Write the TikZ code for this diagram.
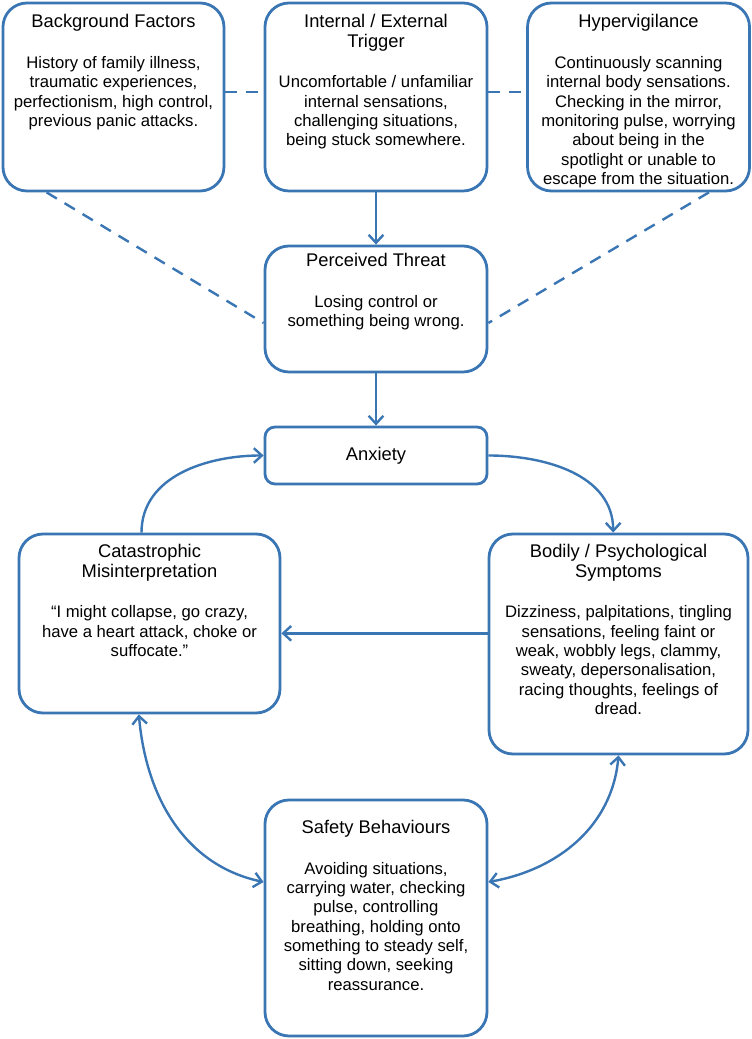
\documentclass[tikz,border=0pt]{standalone}
\usepackage{fontspec}
\setmainfont{Liberation Sans}
\usepackage{xcolor}
\usetikzlibrary{positioning, arrows.meta}

\definecolor{boxblue}{RGB}{58,117,180}
\newcommand{\ttl}[1]{{\fontsize{13.75}{15.5}\selectfont #1}}

\begin{document}
\begin{tikzpicture}[x=0.75pt,y=0.75pt,node distance=196.9pt,
                    box/.style={draw=boxblue,line width=2.1pt,rounded corners=18pt,minimum width=166.5pt,minimum height=141pt},
                    txt/.style={inner sep=0pt,align=center,font=\fontsize{12.5}{14.5}\selectfont},
                    arr/.style={draw=boxblue,line width=1.8pt,-{Straight Barb[length=6pt,width=11pt]}},
                    dbl/.style={arr,{Straight Barb[length=6pt,width=11pt]}-{Straight Barb[length=6pt,width=11pt]}},
                    dash line/.style={draw=boxblue,line width=1.8pt,dash pattern=on 9pt off 6.75pt}]

  \useasboundingbox (0,0) rectangle (751,1039);

  % top row
  \node[box] (trig) at (376,942) {};
  \node[box,minimum width=165.75pt] (bg) [left of=trig] {};
  \node[box] (hyp) [right of=trig] {};

  \node[box,minimum height=94.5pt] (pt) at (376,730) {};
  \node[box,txt,rounded corners=7.5pt,minimum height=42.75pt] (anx) at (376,583.5) {\ttl{Anxiety}};

  % cycle
  \node[box,minimum width=195.75pt,minimum height=134.25pt] (cat) at (149.5,415.5) {};
  \node[box,minimum width=194.25pt,minimum height=165pt] (bod) at (618.5,395) {};
  \node[box,minimum height=177pt] (saf) at (376,121) {};

  % texts
  \node[txt,below=9.5pt of bg.north] (bgtext) {\ttl{Background Factors}\\[16pt]
    History of family illness,\\ traumatic experiences,\\ perfectionism, high control,\\ previous panic attacks.};
  \node[txt,below=9.5pt of trig.north] (trigtext) {\ttl{Internal / External}\\ \ttl{Trigger}\\[16pt]
    Uncomfortable / unfamiliar\\ internal sensations,\\ challenging situations,\\ being stuck somewhere.};
  \node[txt,below=9.5pt of hyp.north] (hyptext) {\ttl{Hypervigilance}\\[16pt]
    Continuously scanning\\ internal body sensations.\\ Checking in the mirror,\\ monitoring pulse, worrying\\ about being in the\\ spotlight or unable to\\ escape from the situation.};
  \node[txt,below=6.5pt of pt.north] (pttext) {\ttl{Perceived Threat}\\[16pt]
    Losing control or\\ something being wrong.};
  \node[txt,below=8.75pt of cat.north] (cattext) {\ttl{Catastrophic}\\ \ttl{Misinterpretation}\\[16pt]
    “I might collapse, go crazy,\\ have a heart attack, choke or\\ suffocate.”};
  \node[txt,below=8.75pt of bod.north] (bodtext) {\ttl{Bodily / Psychological}\\ \ttl{Symptoms}\\[16pt]
    Dizziness, palpitations, tingling\\ sensations, feeling faint or\\ weak, wobbly legs, clammy,\\ sweaty, depersonalisation,\\ racing thoughts, feelings of\\ dread.};
  \node[txt,below=16pt of saf.north] (saftext) {\ttl{Safety Behaviours}\\[16pt]
    Avoiding situations,\\ carrying water, checking\\ pulse, controlling\\ breathing, holding onto\\ something to steady self,\\ sitting down, seeking\\ reassurance.};

  \path[dash line]
  ([yshift=3.75pt]bg.east) edge ([yshift=3.75pt]trig.west)
  ([yshift=3.75pt]trig.east) edge ([yshift=3.75pt]hyp.west)
  ([xshift=33.75pt]bg.south west) edge ([yshift=-10.5pt]pt.west)
  ([xshift=-31.5pt]hyp.south east) edge ([yshift=-10.5pt]pt.east);

  \path[arr]
  (trig) edge (pt)
  (pt) edge (anx);

  \draw[arr] ([xshift=-6pt]cat.north) to[out=90,in=180] (anx.west);
  \draw[arr] (anx.east) to[out=0,in=90] ([xshift=-4pt]bod.north);
  \draw[arr] ([yshift=8pt]bod.west) -- ([yshift=8pt]bod.west -| cat.east);
  \draw[dbl] ([xshift=-8pt]cat.south) to[out=-85,in=168] ([yshift=27pt]saf.west);
  \draw[dbl] (bod.south) to[out=-95,in=10] ([yshift=27pt]saf.east);

\end{tikzpicture}
\end{document}
